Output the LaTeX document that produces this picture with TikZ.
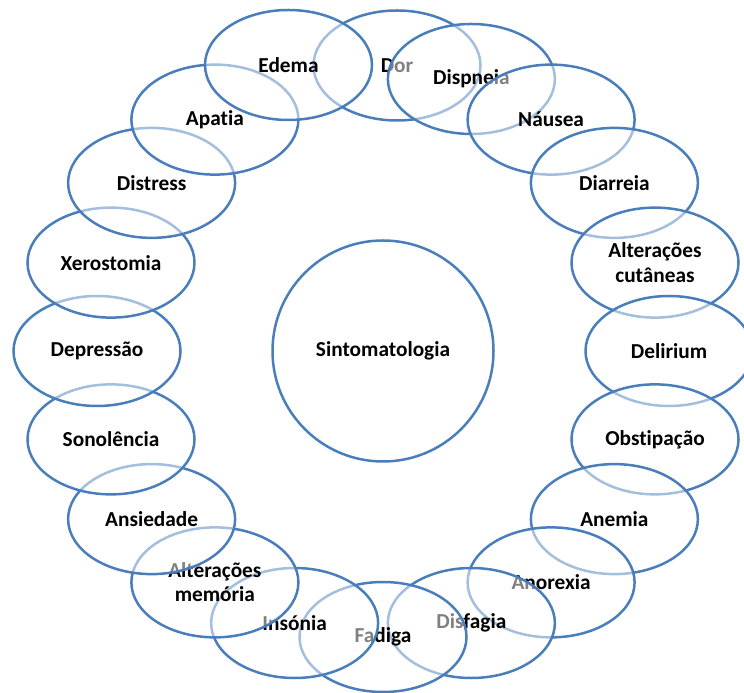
\documentclass[tikz,border=0pt]{standalone}
\usepackage{fontspec}
\setmainfont[Ligatures=NoCommon]{Carlito}
\usetikzlibrary{shapes.geometric}
\definecolor{ringblue}{HTML}{4A7EBB}
\begin{document}
\begin{tikzpicture}[x=1bp,y=1bp,
  every node/.style={font=\fontsize{21.4}{24.5}\selectfont\bfseries, align=center, text=black},
  symptom/.style={ellipse, draw=ringblue, line width=2.5bp, fill=white,
    fill opacity=0.5, draw opacity=1, text opacity=1,
    minimum width=167bp, minimum height=110bp, inner sep=0pt},
  hub/.style={circle, draw=ringblue, line width=2.5bp, fill=white,
    minimum size=221bp, inner sep=0pt}]
\useasboundingbox (0,0) rectangle (744,693);
\begin{scope}[shift={(383,342)}]
  % central topic
  \node[hub] (hub) at (0,0) {Sintomatologia};
  % ring of symptoms, drawn clockwise from the top
  \node[symptom] (dor)       at (14,285.5) {Dor};
  \node[symptom] (dispneia)  at (72:286)   {Dispneia};
  \node[symptom] (nausea)    at (54:286)   {Náusea};
  \node[symptom] (diarreia)  at (36:286)   {Diarreia};
  \node[symptom] (cutaneas)  at (18:286)   {Alterações\\cutâneas};
  \node[symptom] (delirium)  at (0:286)    {Delirium};
  \node[symptom] (obstip)    at (-18:286)  {Obstipação};
  \node[symptom] (anemia)    at (-36:286)  {Anemia};
  \node[symptom] (anorexia)  at (-54:286)  {Anorexia};
  \node[symptom] (disfagia)  at (-72:286)  {Disfagia};
  \node[symptom] (fadiga)    at (-90:286)  {Fadiga};
  \node[symptom] (insonia)   at (-108:286) {Insónia};
  \node[symptom] (memoria)   at (-126:286) {Alterações\\memória};
  \node[symptom] (ansiedade) at (-144:286) {Ansiedade};
  \node[symptom] (sonolenc)  at (-162:286) {Sonolência};
  \node[symptom] (depressao) at (180:286)  {Depressão};
  \node[symptom] (xerost)    at (162:286)  {Xerostomia};
  \node[symptom] (distress)  at (144:286)  {Distress};
  \node[symptom] (apatia)    at (126:286)  {Apatia};
  \node[symptom] (edema)     at (-94.5,286) {Edema};
\end{scope}
\end{tikzpicture}
\end{document}
